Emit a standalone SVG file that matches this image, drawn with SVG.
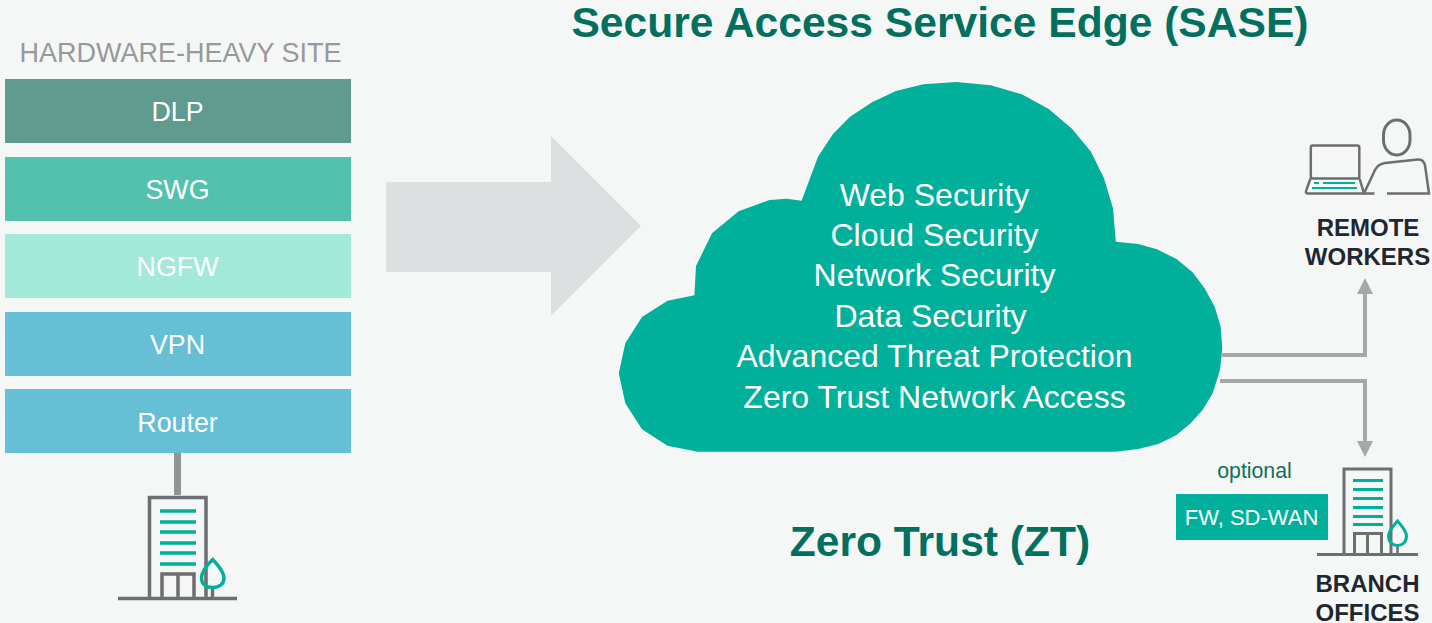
<svg xmlns="http://www.w3.org/2000/svg" width="1432" height="623" viewBox="0 0 1432 623">
<style>
text{font-family:"Liberation Sans",Arial,sans-serif;text-anchor:middle}
.box{font-size:26.800px;fill:#fff}
.cl{font-size:32px;fill:#fff}
.ttl{font-size:42.600px;font-weight:700;fill:#03705f}
.lbl{font-size:24px;font-weight:700;fill:#1f2730}
.g{fill:none;stroke:#6d6e71;stroke-width:3.500}
.t{fill:none;stroke:#00b09b;stroke-width:3.500}
.conn{fill:none;stroke:#a7a8aa;stroke-width:4}
</style>
<defs>
<marker id="ah" markerUnits="userSpaceOnUse" markerWidth="16" markerHeight="16" viewBox="0 0 16 16" refX="0" refY="8" orient="auto"><path d="M0 0L16 8L0 16Z" fill="#a7a8aa"/></marker>
</defs>
<rect width="1432" height="623" fill="#f5f7f6"/>
<text x="940" y="37" class="ttl" id="title">Secure Access Service Edge (SASE)</text>
<g id="hardware-stack">
<text x="180.500" y="62" font-size="27" fill="#97999b">HARDWARE-HEAVY SITE</text>
<g id="dlp"><rect x="5" y="79" width="346" height="64" fill="#5f9b8e"/><text x="177.500" y="121" class="box">DLP</text></g>
<g id="swg"><rect x="5" y="157" width="346" height="64" fill="#52c2ae"/><text x="177.500" y="199" class="box">SWG</text></g>
<g id="ngfw"><rect x="5" y="234" width="346" height="64" fill="#a3e9da"/><text x="177.500" y="276" class="box">NGFW</text></g>
<g id="vpn"><rect x="5" y="312" width="346" height="64" fill="#66bfd4"/><text x="177.500" y="354" class="box">VPN</text></g>
<g id="router"><rect x="5" y="389" width="346" height="64" fill="#66bfd4"/><text x="177.500" y="432" class="box">Router</text></g>
</g>
<g id="connectors">
<path d="M177.500 453V495" fill="none" stroke="#929497" stroke-width="7"/>
<path class="conn" d="M1222 355H1365V294" marker-end="url(#ah)"/>
<path class="conn" d="M1220 381H1365V441" marker-end="url(#ah)"/>
</g>
<g id="hq-building">
<path class="g" d="M118 598.500H237M149.500 598V497.500H206V598"/>
<path class="t" d="M160 511H196M160 522H196M160 532H196M160 543H196M160 553H196M160 564H196"/>
<path class="g" d="M162 598V574H194V598M178 574V598"/>
<path class="g" d="M212.500 587V598"/>
<path class="t" d="M212.700 559.500C219 566 224 572 224 578C224 584 219 587.500 212.700 587.500C206 587.500 201.500 584 201.500 578C201.500 572 206 566 212.700 559.500Z"/>
</g>
<polygon id="transition-arrow" points="386,182 551,182 551,136 641,226 551,316 551,272 386,272" fill="#dde0e0"/>
<g id="sase-cloud">
<polygon fill="#00b09b" points="618.800,373.300 625.300,343.300 642,317 667.500,300.700 694.400,295.300 696,266 712,233.300 738.600,211.300 769.500,200 786.800,198.700 801.600,200.700 818,156.700 833,134 850,116.700 872,102.300 896,91 923.400,84.300 956.300,82 990.900,85.300 1021.800,94.300 1048.700,109 1072,128.700 1091,151.700 1104,178.300 1113,208.300 1115.800,241.700 1138.300,244 1157,249.300 1176.500,259 1192.600,272.300 1204.600,288.300 1214.700,306.700 1220.700,326.700 1222.300,348.300 1220,370 1212.700,393.300 1202.600,410 1190.600,423.300 1176.500,435 1158.400,444 1138.300,449 1116,451.700 697.600,451.700 667.500,445.700 642,429.300 625.300,403.300"/>
<text x="934.500" y="206" class="cl">Web Security</text>
<text x="934.500" y="246" class="cl">Cloud Security</text>
<text x="934.500" y="286" class="cl">Network Security</text>
<text x="930.500" y="327" class="cl">Data Security</text>
<text x="934.500" y="367" class="cl">Advanced Threat Protection</text>
<text x="934.500" y="408" class="cl">Zero Trust Network Access</text>
</g>
<text id="zt-title" x="940" y="556" class="ttl">Zero Trust (ZT)</text>
<g id="remote-workers">
<rect class="g" style="stroke-width:2.500" x="1310.800" y="145.500" width="48.500" height="33" rx="2"/>
<path class="g" style="stroke-width:2.500" d="M1310.500 178.500L1306 191Q1305.500 193.500 1308 193.500H1364L1359.500 178.500"/>
<path fill="none" stroke="#00b09b" stroke-width="2" d="M1314 183H1319M1323 183H1355M1312 188H1357"/>
<rect class="g" style="stroke-width:3" x="1383.500" y="120" width="26.500" height="35" rx="13" ry="15"/>
<path class="g" style="stroke-width:2.500" d="M1364 193.500L1375 170Q1378 164 1385 163L1418 159.500Q1423 159 1425 165L1429 193.500H1387M1364 193.500H1374.500"/>
<text x="1368" y="236" class="lbl">REMOTE</text>
<text x="1367.500" y="265" class="lbl">WORKERS</text>
</g>
<g id="branch-offices">
<text x="1254.500" y="478" font-size="21.300" fill="#0f7060">optional</text>
<rect x="1176" y="494" width="152" height="46" fill="#00b09b"/>
<text x="1251.500" y="525" font-size="22" fill="#fff">FW, SD-WAN</text>
<path class="g" style="stroke-width:3" d="M1317 554.500H1418M1344 554V469H1391V554"/>
<path class="t" style="stroke-width:3" d="M1353 480.500H1383M1353 489.500H1383M1353 498.500H1383M1353 507.500H1383M1353 516.500H1383M1353 524.500H1383"/>
<path class="g" style="stroke-width:3" d="M1354.500 554V533.500H1381.500V554M1367.500 533.500V554"/>
<path class="g" style="stroke-width:2.500" d="M1397.500 545V554"/>
<path class="t" style="stroke-width:3" d="M1397.500 521C1402 526 1406.500 531 1406.500 536C1406.500 542 1402.500 545.500 1397.500 545.500C1392.500 545.500 1388.500 542 1388.500 536C1388.500 531 1393 526 1397.500 521Z"/>
<text x="1367.500" y="592" class="lbl">BRANCH</text>
<text x="1367.500" y="620.500" class="lbl">OFFICES</text>
</g>
</svg>
